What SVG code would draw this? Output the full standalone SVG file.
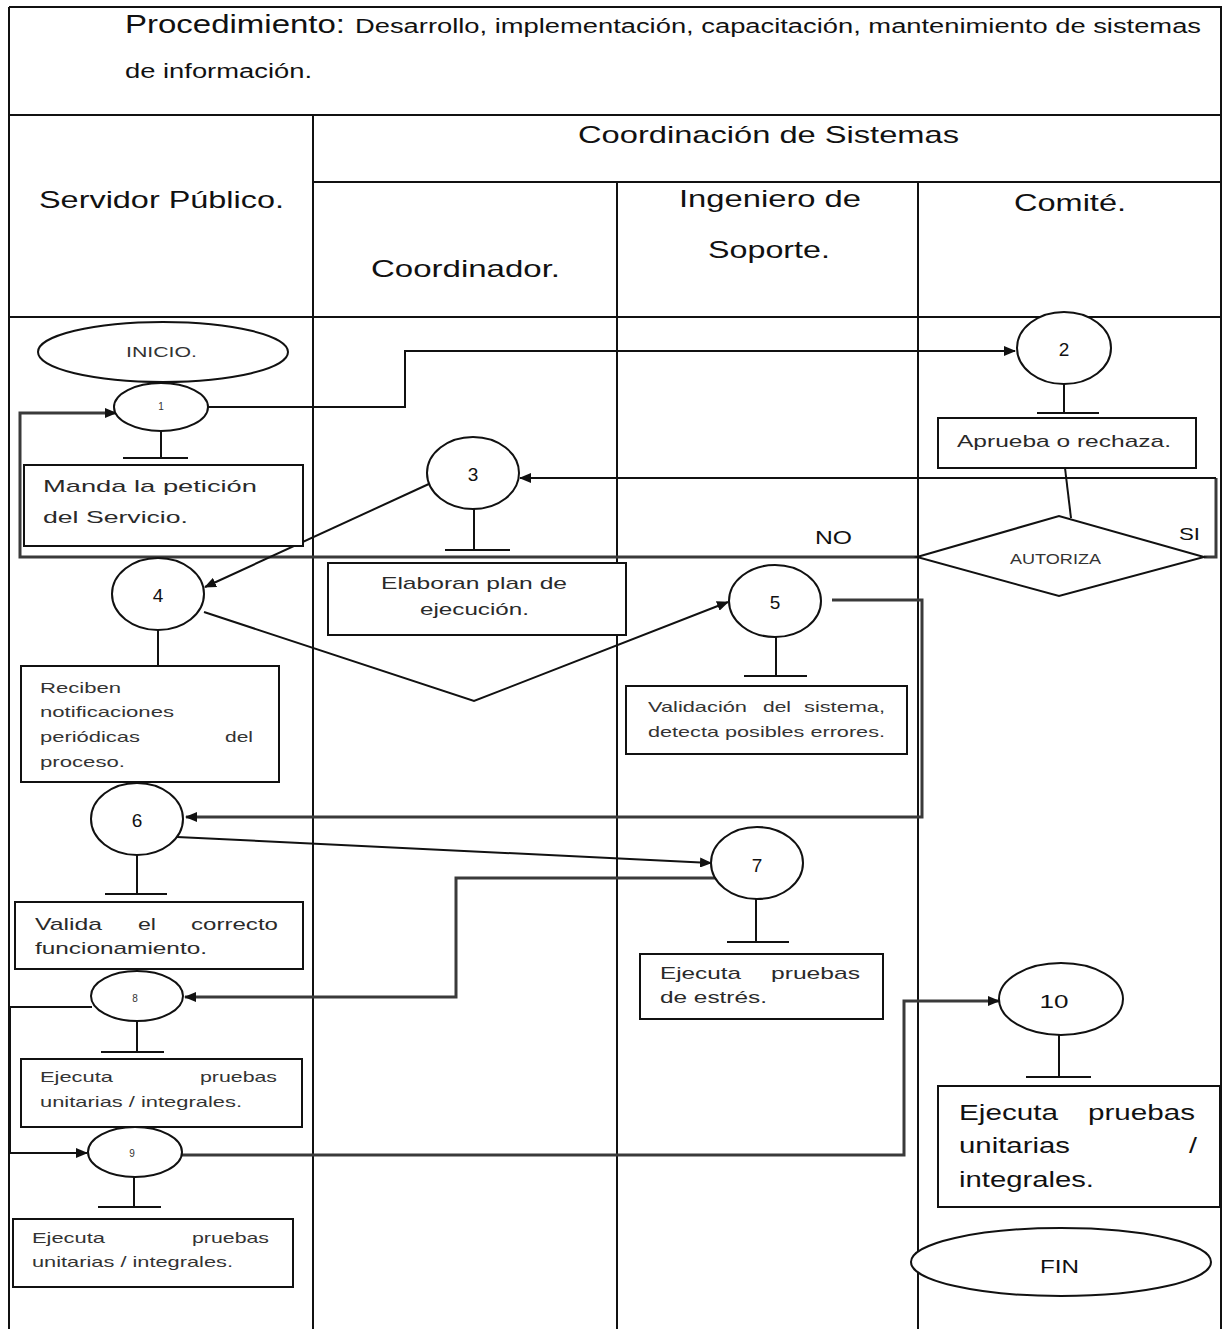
<svg xmlns="http://www.w3.org/2000/svg" width="1231" height="1329" viewBox="0 0 1231 1329">
  <defs>
    <marker id="arrow" markerUnits="userSpaceOnUse" markerWidth="12" markerHeight="10" refX="11" refY="5" orient="auto">
      <path d="M0,0 L12,5 L0,10 Z" fill="#111"/>
    </marker>
    <style>
      .frame { stroke: #111; stroke-width: 2; fill: none; }
      .shape { stroke: #111; stroke-width: 2; fill: #fff; }
      .c { stroke: #111; stroke-width: 2; fill: none; }
      .cg { stroke: #3a3a3a; stroke-width: 3; fill: none; }
      text { font-family: "Liberation Sans", Arial, sans-serif; fill: #111; }
      .hd { font-size: 24px; }
      .tx { font-size: 17px; fill: #2a2a2a; }
      .sm { font-size: 15px; fill: #333; }
      .num { font-size: 19px; text-anchor: middle; }
      .tiny { font-size: 10px; text-anchor: middle; fill: #333; }
    </style>
  </defs>
  <rect width="1231" height="1329" fill="#fff"/>

  <!-- swimlane frame -->
  <g id="frame">
    <line class="frame" x1="9" y1="7" x2="1222" y2="7"/>
    <line class="frame" x1="9" y1="7" x2="9" y2="1329"/>
    <line class="frame" x1="1221" y1="7" x2="1221" y2="1329"/>
    <line class="frame" x1="9" y1="115" x2="1222" y2="115"/>
    <line class="frame" x1="313" y1="115" x2="313" y2="1329"/>
    <line class="frame" x1="313" y1="182" x2="1222" y2="182"/>
    <line class="frame" x1="617" y1="182" x2="617" y2="1329"/>
    <line class="frame" x1="918" y1="182" x2="918" y2="1329"/>
    <line class="frame" x1="9" y1="317" x2="1222" y2="317"/>
  </g>

  <!-- title and lane headings -->
  <g id="title">
    <text x="125" y="33" font-size="25" textLength="220" lengthAdjust="spacingAndGlyphs">Procedimiento:</text>
    <text x="355" y="33" font-size="20" textLength="846" lengthAdjust="spacingAndGlyphs">Desarrollo, implementación, capacitación, mantenimiento de sistemas</text>
    <text x="125" y="78" font-size="20" textLength="187" lengthAdjust="spacingAndGlyphs">de información.</text>
  </g>
  <g id="lane-headers">
    <text class="hd" x="578" y="143" textLength="381" lengthAdjust="spacingAndGlyphs">Coordinación de Sistemas</text>
    <text class="hd" x="39" y="208" textLength="245" lengthAdjust="spacingAndGlyphs">Servidor Público.</text>
    <text class="hd" x="371" y="277" textLength="189" lengthAdjust="spacingAndGlyphs">Coordinador.</text>
    <text class="hd" x="679" y="207" textLength="182" lengthAdjust="spacingAndGlyphs">Ingeniero de</text>
    <text class="hd" x="708" y="258" textLength="122" lengthAdjust="spacingAndGlyphs">Soporte.</text>
    <text class="hd" x="1014" y="211" textLength="112" lengthAdjust="spacingAndGlyphs">Comité.</text>
  </g>

  <!-- connectors -->
  <g id="connectors">
    <path class="c" d="M208,407 H405 V351 H1015" marker-end="url(#arrow)"/>
    <path class="cg" d="M918,557 H20 V413 H116" marker-end="url(#arrow)"/>
    <path class="cg" d="M1204,557 H1216 V478"/>
    <path class="c" d="M1216,478 H520" marker-end="url(#arrow)"/>
    <path class="c" d="M1065,468 L1071,518"/>
    <path class="c" d="M431,483 L205,587" marker-end="url(#arrow)"/>
    <path class="c" d="M204,612 L474,701 L728,602" marker-end="url(#arrow)"/>
    <path class="cg" d="M832,600 H922 V817 H186" marker-end="url(#arrow)"/>
    <path class="c" d="M177,837 L711,863" marker-end="url(#arrow)"/>
    <path class="cg" d="M728,878 H456 V997 H185" marker-end="url(#arrow)"/>
    <path class="c" d="M92,1007 H10 V1153 H87" marker-end="url(#arrow)"/>
    <path class="cg" d="M182,1155 H904 V1001 H999" marker-end="url(#arrow)"/>
    <!-- T-shaped links from steps to their descriptions -->
    <path class="c" d="M161,431 V458 M123,458 H188"/>
    <path class="c" d="M1064,383 V413 M1037,413 H1099"/>
    <path class="c" d="M474,509 V550 M445,550 H510"/>
    <path class="c" d="M158,630 V666"/>
    <path class="c" d="M776,637 V676 M744,676 H807"/>
    <path class="c" d="M137,855 V894 M105,894 H167"/>
    <path class="c" d="M756,899 V942 M727,942 H789"/>
    <path class="c" d="M137,1021 V1052 M101,1052 H164"/>
    <path class="c" d="M134,1177 V1207 M98,1207 H161"/>
    <path class="c" d="M1059,1035 V1077 M1026,1077 H1091"/>
  </g>

  <g id="inicio">
    <ellipse class="shape" cx="163" cy="352" rx="125" ry="30"/>
    <text class="sm" x="126" y="357" font-size="13" textLength="71" lengthAdjust="spacingAndGlyphs">INICIO.</text>
  </g>

  <g id="step1">
    <ellipse class="shape" cx="161" cy="407" rx="47" ry="24"/>
    <text class="tiny" x="161" y="410">1</text>
  </g>
  <g id="box1">
    <rect class="shape" x="24" y="465" width="279" height="81"/>
    <text class="tx" x="43" y="492" font-size="21" textLength="214" lengthAdjust="spacingAndGlyphs">Manda la petición</text>
    <text class="tx" x="43" y="523" font-size="21" textLength="145" lengthAdjust="spacingAndGlyphs">del Servicio.</text>
  </g>

  <g id="step2">
    <ellipse class="shape" cx="1064" cy="348" rx="47" ry="36"/>
    <text class="num" x="1064" y="356">2</text>
  </g>
  <g id="box2">
    <rect class="shape" x="938" y="418" width="258" height="50"/>
    <text class="tx" x="957" y="447" textLength="214" lengthAdjust="spacingAndGlyphs">Aprueba o rechaza.</text>
  </g>

  <g id="decision">
    <polygon class="shape" points="917,557 1059,516 1204,557 1059,596"/>
    <text class="sm" x="1010" y="564" font-size="12" textLength="91" lengthAdjust="spacingAndGlyphs">AUTORIZA</text>
    <text x="1179" y="540" font-size="17" textLength="21" lengthAdjust="spacingAndGlyphs">SI</text>
    <text x="815" y="544" font-size="19" textLength="37" lengthAdjust="spacingAndGlyphs">NO</text>
  </g>

  <g id="step3">
    <ellipse class="shape" cx="473" cy="473" rx="46" ry="36"/>
    <text class="num" x="473" y="481">3</text>
  </g>
  <g id="box3">
    <rect class="shape" x="328" y="563" width="298" height="72"/>
    <text class="tx" x="381" y="589" textLength="186" lengthAdjust="spacingAndGlyphs">Elaboran plan de</text>
    <text class="tx" x="420" y="615" textLength="109" lengthAdjust="spacingAndGlyphs">ejecución.</text>
  </g>

  <g id="step4">
    <ellipse class="shape" cx="158" cy="594" rx="46" ry="36"/>
    <text class="num" x="158" y="602">4</text>
  </g>
  <g id="box4">
    <rect class="shape" x="21" y="666" width="258" height="116"/>
    <text class="sm" x="40" y="693" textLength="81" lengthAdjust="spacingAndGlyphs">Reciben</text>
    <text class="sm" x="40" y="717" textLength="134" lengthAdjust="spacingAndGlyphs">notificaciones</text>
    <text class="sm" x="40" y="742" textLength="100" lengthAdjust="spacingAndGlyphs">periódicas</text>
    <text class="sm" x="225" y="742" textLength="28" lengthAdjust="spacingAndGlyphs">del</text>
    <text class="sm" x="40" y="767" textLength="85" lengthAdjust="spacingAndGlyphs">proceso.</text>
  </g>

  <g id="step5">
    <ellipse class="shape" cx="775" cy="601" rx="46" ry="36"/>
    <text class="num" x="775" y="609">5</text>
  </g>
  <g id="box5">
    <rect class="shape" x="626" y="686" width="281" height="68"/>
    <text class="sm" x="648" y="712" textLength="99" lengthAdjust="spacingAndGlyphs">Validación</text>
    <text class="sm" x="763" y="712" textLength="28" lengthAdjust="spacingAndGlyphs">del</text>
    <text class="sm" x="804" y="712" textLength="81" lengthAdjust="spacingAndGlyphs">sistema,</text>
    <text class="sm" x="648" y="737" textLength="237" lengthAdjust="spacingAndGlyphs">detecta posibles errores.</text>
  </g>

  <g id="step6">
    <ellipse class="shape" cx="137" cy="819" rx="46" ry="36"/>
    <text class="num" x="137" y="827">6</text>
  </g>
  <g id="box6">
    <rect class="shape" x="15" y="902" width="288" height="67"/>
    <text class="tx" x="35" y="930" textLength="67" lengthAdjust="spacingAndGlyphs">Valida</text>
    <text class="tx" x="138" y="930" textLength="18" lengthAdjust="spacingAndGlyphs">el</text>
    <text class="tx" x="191" y="930" textLength="87" lengthAdjust="spacingAndGlyphs">correcto</text>
    <text class="tx" x="35" y="954" textLength="172" lengthAdjust="spacingAndGlyphs">funcionamiento.</text>
  </g>

  <g id="step7">
    <ellipse class="shape" cx="757" cy="863" rx="46" ry="36"/>
    <text class="num" x="757" y="872">7</text>
  </g>
  <g id="box7">
    <rect class="shape" x="640" y="954" width="243" height="65"/>
    <text class="tx" x="660" y="979" textLength="81" lengthAdjust="spacingAndGlyphs">Ejecuta</text>
    <text class="tx" x="771" y="979" textLength="89" lengthAdjust="spacingAndGlyphs">pruebas</text>
    <text class="tx" x="660" y="1003" textLength="107" lengthAdjust="spacingAndGlyphs">de estrés.</text>
  </g>

  <g id="step8">
    <ellipse class="shape" cx="137" cy="996" rx="46" ry="25"/>
    <text class="tiny" x="135" y="1002">8</text>
  </g>
  <g id="box8">
    <rect class="shape" x="21" y="1059" width="281" height="68"/>
    <text class="sm" x="40" y="1082" textLength="73" lengthAdjust="spacingAndGlyphs">Ejecuta</text>
    <text class="sm" x="200" y="1082" textLength="77" lengthAdjust="spacingAndGlyphs">pruebas</text>
    <text class="sm" x="40" y="1107" textLength="202" lengthAdjust="spacingAndGlyphs">unitarias / integrales.</text>
  </g>

  <g id="step9">
    <ellipse class="shape" cx="135" cy="1152" rx="47" ry="25"/>
    <text class="tiny" x="132" y="1157">9</text>
  </g>
  <g id="box9">
    <rect class="shape" x="13" y="1219" width="280" height="68"/>
    <text class="sm" x="32" y="1243" textLength="73" lengthAdjust="spacingAndGlyphs">Ejecuta</text>
    <text class="sm" x="192" y="1243" textLength="77" lengthAdjust="spacingAndGlyphs">pruebas</text>
    <text class="sm" x="32" y="1267" textLength="201" lengthAdjust="spacingAndGlyphs">unitarias / integrales.</text>
  </g>

  <g id="step10">
    <ellipse class="shape" cx="1061" cy="999" rx="62" ry="36"/>
    <text class="num" x="1054" y="1008" textLength="29" lengthAdjust="spacingAndGlyphs">10</text>
  </g>
  <g id="box10">
    <rect class="shape" x="938" y="1086" width="282" height="121"/>
    <text x="959" y="1120" font-size="22" textLength="99" lengthAdjust="spacingAndGlyphs">Ejecuta</text>
    <text x="1088" y="1120" font-size="22" textLength="107" lengthAdjust="spacingAndGlyphs">pruebas</text>
    <text x="959" y="1153" font-size="22" textLength="111" lengthAdjust="spacingAndGlyphs">unitarias</text>
    <text x="1189" y="1153" font-size="22" textLength="8" lengthAdjust="spacingAndGlyphs">/</text>
    <text x="959" y="1187" font-size="22" textLength="135" lengthAdjust="spacingAndGlyphs">integrales.</text>
  </g>

  <g id="fin">
    <ellipse class="shape" cx="1061" cy="1262" rx="150" ry="34"/>
    <text x="1040" y="1273" font-size="18" textLength="39" lengthAdjust="spacingAndGlyphs">FIN</text>
  </g>
</svg>
